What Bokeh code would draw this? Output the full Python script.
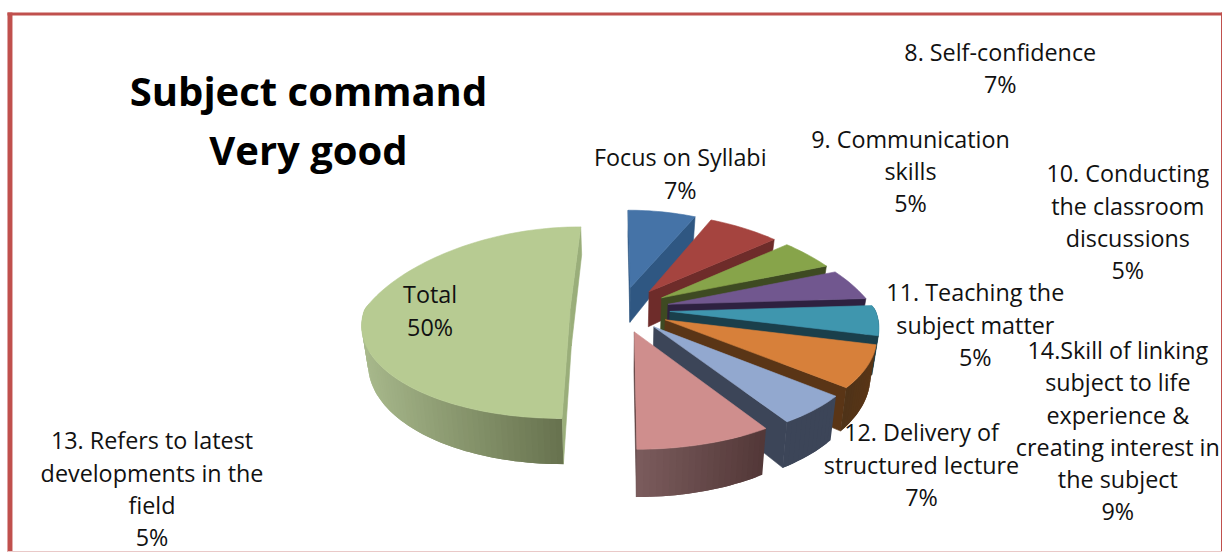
import math
from bokeh.plotting import figure
from bokeh.models import Range1d
from bokeh.core.properties import value
from bokeh.embed import file_html
from bokeh.resources import INLINE

# ---- data -------------------------------------------------------------
categories = ["Focus on Syllabi", "8. Self-confidence", "9. Communication skills",
              "10. Conducting the classroom discussions", "11. Teaching the subject matter",
              "12. Delivery of structured lecture", "13. Refers to latest developments in the field",
              "14.Skill of linking subject to life experience & creating interest in the subject",
              "Total"]
percent = [7, 7, 5, 5, 5, 7, 5, 9, 50]
title_lines = ["Subject command", "Very good"]
label_lines = [
    ["Focus on Syllabi"],
    ["8. Self-confidence"],
    ["9. Communication", "skills"],
    ["10. Conducting", "the classroom", "discussions"],
    ["11. Teaching the", "subject matter"],
    ["12. Delivery of", "structured lecture"],
    ["13. Refers to latest", "developments in the", "field"],
    ["14.Skill of linking", "subject to life", "experience &", "creating interest in", "the subject"],
    ["Total"],
]

# ---- styles / layout ---------------------------------------------------
top_col = ["#4573a7", "#a5443f", "#87a44a", "#71578f", "#3f96ae", "#d7803a", "#92a8cf", "#cf8e8d", "#b7cb92"]
cut_col = ["#2f5782", "#6e2c2a", "#3e4a22", "#2e2140", "#1a3f4b", "#5a3516", "#3c4558", "#553a3a", "#9aae7a"]
wall_left = ["#2f5782", "#6e2c2a", "#3e4a22", "#2e2140", "#1a3f4b", "#4f3318", "#3c4558", "#7a5b5c", "#a8b98c"]
wall_right = ["#2f5782", "#6e2c2a", "#3e4a22", "#2e2140", "#1a3f4b", "#5a3516", "#3c4558", "#533838", "#68734f"]
label_pos = [  # centre x, first-line y
    (682, 158), (1003, 52), (913, 139), (1131, 174), (978, 294),
    (924, 435), (152, 443), (1121, 352), (431, 296),
]
LINE = 32.5
CX, CY, RX, RY = 621.5, 311.0, 206.0, 94.6
EXPLODE = 0.243
FONT = "Open Sans"
LABEL_SIZE = "17.5pt"
TITLE_SIZE = "30pt"
X_END, Y_END = 1226, 556


def project(u, v, bottom=False):
    q = 0.27 if v > 0 else 0.14
    x = CX + u * RX / (1 + q * v)
    y = CY - v * RY / (1 + 0.14 * v)
    if bottom:
        x = CX + (x - CX) * 0.975
        y = y + 37 - 9 * v
    return x, y


def mix(c1, c2, t):
    a = [int(c1[i:i + 2], 16) for i in (1, 3, 5)]
    b = [int(c2[i:i + 2], 16) for i in (1, 3, 5)]
    return "#%02x%02x%02x" % tuple(round(a[i] + (b[i] - a[i]) * t) for i in range(3))


p = figure(width=1222, height=552, output_backend="svg", toolbar_location=None,
           x_range=Range1d(0, X_END), y_range=Range1d(Y_END, 0), min_border=0,
           margin=(0, 0, -8, 0))
p.xaxis.visible = False
p.yaxis.visible = False
p.grid.visible = False
p.outline_line_color = None

# frame
FRAME = "#c0504d"
p.quad(left=[7], right=[12], top=[12], bottom=[Y_END], fill_color=FRAME, line_color=None)
p.quad(left=[7], right=[X_END], top=[12], bottom=[15], fill_color=FRAME, line_color=None)
p.quad(left=[X_END - 1.5], right=[X_END], top=[12], bottom=[Y_END], fill_color=FRAME, line_color=None)
p.quad(left=[7], right=[X_END], top=[Y_END - 1.5], bottom=[Y_END], fill_color="#e9c9c8", line_color=None)


def patch(xs, ys, fill, lw=0.6):
    p.patch(xs, ys, fill_color=fill, line_color=fill, line_width=lw)


total = sum(percent)
start = 0.0
slices = []
for i, val in enumerate(percent):
    span = val / total * 2 * math.pi
    slices.append((i, start, start + span))
    start += span


def draw_slice(i, a0, a1):
    mid = (a0 + a1) / 2
    eu, ev = EXPLODE * math.sin(mid), EXPLODE * math.cos(mid)
    n = max(3, int((a1 - a0) / math.radians(1.5)))
    angs = [a0 + (a1 - a0) * k / n for k in range(n + 1)]
    rim = [(eu + math.sin(a), ev + math.cos(a)) for a in angs]
    apex = (eu, ev)

    # straight cut faces that face the viewer
    for ang, pt in ((a0, rim[0]), (a1, rim[-1])):
        normal_v = math.sin(ang) if ang == a0 else -math.sin(ang)
        if normal_v < 0.02:
            t0, t1 = project(*apex), project(*pt)
            b1, b0 = project(*pt, bottom=True), project(*apex, bottom=True)
            patch([t0[0], t1[0], b1[0], b0[0]], [t0[1], t1[1], b1[1], b0[1]], cut_col[i])

    # outer wall, as overlapping strips shaded by position
    front = [k for k in range(n) if math.cos((angs[k] + angs[k + 1]) / 2) < 0.05]
    if front:
        xs_all = [project(*rim[k])[0] for k in front]
        lo, hi = min(xs_all), max(xs_all)
        for k in front:
            e = min(k + 2, n)
            ts = [project(*rim[j]) for j in range(k, e + 1)]
            bs = [project(*rim[j], bottom=True) for j in range(e, k - 1, -1)]
            t = (ts[0][0] - lo) / (hi - lo) if hi > lo else 0
            q = ts + bs
            c = mix(wall_left[i], wall_right[i], t)
            p.patch([v[0] for v in q], [v[1] for v in q], fill_color=c, line_color=None)

    # top surface
    pts = [project(*apex)] + [project(*r) for r in rim]
    patch([q[0] for q in pts], [q[1] for q in pts], top_col[i])


for i, a0, a1 in slices:
    draw_slice(i, a0, a1)

# labels
tx, ty, tt = [], [], []
for i, lines in enumerate(label_lines):
    lx, ly = label_pos[i]
    all_lines = lines + ["%d%%" % percent[i]]
    for j, s in enumerate(all_lines):
        tx.append(lx)
        ty.append(ly + j * LINE)
        tt.append(s)
p.text(tx, ty, text=tt, text_align="center", text_baseline="middle",
       text_font=value(FONT), text_font_size=value(LABEL_SIZE), text_color="#111111")

p.text([309, 309], [91, 150], text=title_lines, text_align="center", text_baseline="middle",
       text_font=value(FONT), text_font_size=value(TITLE_SIZE), text_font_style="bold",
       text_color="#000000")

open("out.html", "w").write(file_html(p, INLINE))
